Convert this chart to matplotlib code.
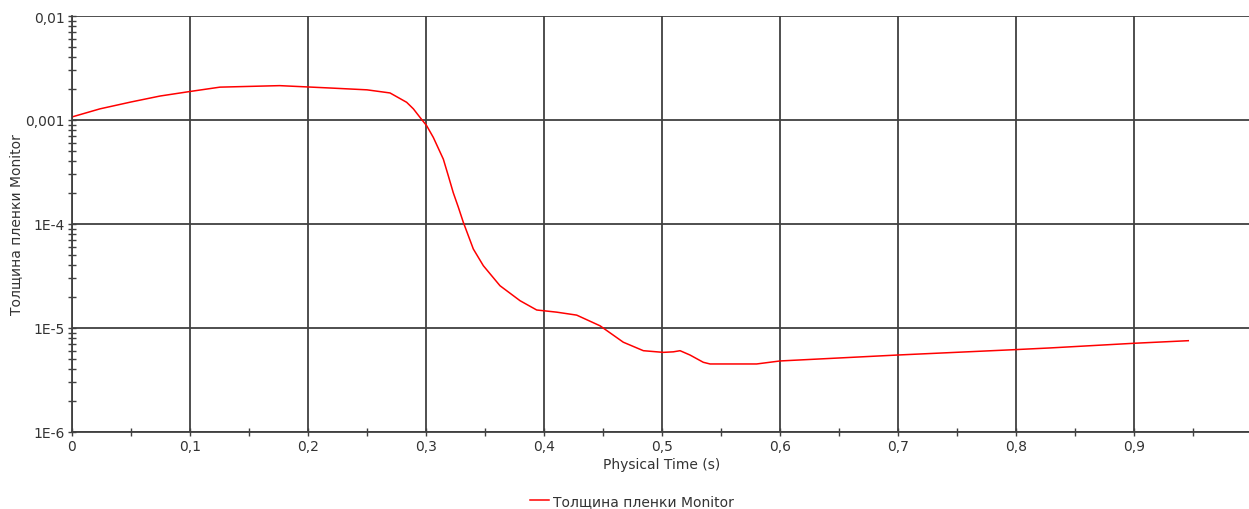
import matplotlib
matplotlib.use("Agg")
import matplotlib.pyplot as plt
from matplotlib.ticker import FixedLocator, LogLocator, NullFormatter, FuncFormatter

# values
time_s = [0.0, 0.0237, 0.05, 0.0746, 0.1, 0.1254, 0.176, 0.219, 0.25, 0.2695,
          0.2836, 0.2893, 0.2949, 0.3006, 0.3062, 0.3147, 0.3189, 0.3231,
          0.3274, 0.3316, 0.3401, 0.3486, 0.3627, 0.3797, 0.3938, 0.4108,
          0.4277, 0.4475, 0.4672, 0.4842, 0.5011, 0.5096, 0.5153, 0.5237,
          0.535, 0.5407, 0.5802, 0.6, 0.7, 0.8, 0.8288, 0.9, 0.946]
thickness = [1.07e-3, 1.28e-3, 1.49e-3, 1.70e-3, 1.88e-3, 2.07e-3, 2.14e-3,
             2.03e-3, 1.95e-3, 1.82e-3, 1.48e-3, 1.28e-3, 1.06e-3, 8.8e-4,
             6.8e-4, 4.2e-4, 2.91e-4, 2.0e-4, 1.45e-4, 1.04e-4, 5.75e-5,
             3.97e-5, 2.55e-5, 1.83e-5, 1.49e-5, 1.42e-5, 1.33e-5, 1.05e-5,
             7.3e-6, 6.05e-6, 5.83e-6, 5.9e-6, 6.05e-6, 5.5e-6, 4.68e-6,
             4.51e-6, 4.51e-6, 4.82e-6, 5.5e-6, 6.2e-6, 6.43e-6, 7.13e-6,
             7.55e-6]
x_ticks = [0.0, 0.1, 0.2, 0.3, 0.4, 0.5, 0.6, 0.7, 0.8, 0.9]
y_ticks = [1e-6, 1e-5, 1e-4, 1e-3, 1e-2]
y_labels = {1e-6: "1E-6", 1e-5: "1E-5", 1e-4: "1E-4", 1e-3: "0,001", 1e-2: "0,01"}
series_name = "Толщина пленки Monitor"

plt.rcParams['font.family'] = ['DejaVu Sans']
plt.rcParams['font.size'] = 10

W, H = 1249, 510
fig = plt.figure(figsize=(W / 100, H / 100), dpi=100)
ax = fig.add_axes([72 / W, 1 - 433 / H, 1180 / W, 416 / H])

ax.plot(time_s, thickness, color='#ff0000', lw=1.1, label=series_name)

ax.set_yscale('log')
ax.set_xlim(0, 1.0)
ax.set_ylim(1e-6, 1e-2)

grid_c = '#404040'
txt_c = '#333333'
ax.xaxis.set_major_locator(FixedLocator(x_ticks))
ax.xaxis.set_minor_locator(FixedLocator([t + 0.05 for t in x_ticks]))
ax.xaxis.set_major_formatter(FuncFormatter(lambda v, p: f"{v:.1f}".replace('.', ',') if v else "0"))
ax.yaxis.set_major_locator(FixedLocator(y_ticks))
ax.yaxis.set_minor_locator(LogLocator(base=10, subs=range(2, 10)))
ax.yaxis.set_minor_formatter(NullFormatter())
ax.yaxis.set_major_formatter(FuncFormatter(lambda v, p: y_labels.get(min(y_labels, key=lambda k: abs(k - v)), "")))

ax.grid(True, which='major', color=grid_c, lw=1.3)
ax.tick_params(which='both', direction='inout', color=grid_c, width=1.0, labelcolor=txt_c, labelsize=10)
ax.tick_params(which='major', length=6, pad=2)
ax.tick_params(which='minor', length=6)

for side in ['right', 'top']:
    ax.spines[side].set_visible(False)
for side in ['left', 'bottom']:
    ax.spines[side].set_color(grid_c)
    ax.spines[side].set_linewidth(1.3)

ax.set_xlabel("Physical Time (s)", color=txt_c, fontsize=10, labelpad=3)
ax.set_ylabel(series_name, color=txt_c, fontsize=10, labelpad=2)

leg = fig.legend(loc='center', bbox_to_anchor=(632 / W, 1 - 502 / H), frameon=False,
                 fontsize=10, handlelength=1.3, handletextpad=0.3)
for t in leg.get_texts():
    t.set_color(txt_c)

fig.savefig("out.png", dpi=100)
